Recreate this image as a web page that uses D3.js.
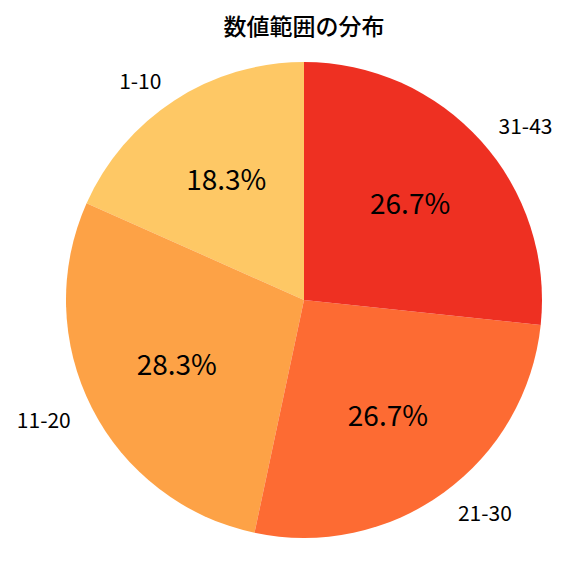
<!DOCTYPE html>
<html>
<head>
<meta charset="utf-8">
<script src="https://d3js.org/d3.v7.min.js"></script>
<style>
  body { margin: 0; background: #fff; }
  text { font-family: "Noto Sans CJK JP", "Noto Sans", sans-serif; }
</style>
</head>
<body>
<div id="chart"></div>
<script>
// data (counts give 18.3 / 28.3 / 26.7 / 26.7 %)
const ranges = ['1-10', '11-20', '21-30', '31-43'];
const counts = [11, 17, 16, 16];
const title = '数値範囲の分布';

const sliceColors = ['#fec865', '#fda246', '#fd6b33', '#ee3022'];

const width = 576, height = 576;
const cx = 304, cy = 300, radius = 238;

const svg = d3.select('#chart').append('svg')
    .attr('width', width)
    .attr('height', height);

svg.append('text')
    .attr('x', cx)
    .attr('y', 25)
    .attr('text-anchor', 'middle')
    .attr('dominant-baseline', 'central')
    .attr('font-size', 23)
    .attr('font-weight', 500)
    .text(title);

const color = d3.scaleOrdinal().domain(ranges).range(sliceColors);

// matplotlib style: start at top, go counter-clockwise
const pie = d3.pie()
    .value(d => d.count)
    .sort(null)
    .startAngle(0)
    .endAngle(-2 * Math.PI);

const rows = ranges.map((r, i) => ({ range: r, count: counts[i] }));
const arcs = pie(rows);
const total = d3.sum(counts);

const arc = d3.arc().innerRadius(0).outerRadius(radius);

const g = svg.append('g').attr('transform', `translate(${cx},${cy})`);

g.selectAll('path')
    .data(arcs)
    .join('path')
    .attr('d', arc)
    .attr('fill', d => color(d.data.range));

const mid = d => (d.startAngle + d.endAngle) / 2;

g.selectAll('.pct')
    .data(arcs)
    .join('text')
    .attr('class', 'pct')
    .attr('x', d => Math.sin(mid(d)) * radius * 0.6)
    .attr('y', d => -Math.cos(mid(d)) * radius * 0.6 - 2)
    .attr('text-anchor', 'middle')
    .attr('dominant-baseline', 'central')
    .attr('font-size', 28)
    .text(d => d3.format('.1f')(d.data.count / total * 100) + '%');

g.selectAll('.lbl')
    .data(arcs)
    .join('text')
    .attr('class', 'lbl')
    .attr('x', d => Math.sin(mid(d)) * radius * 1.1)
    .attr('y', d => -Math.cos(mid(d)) * radius * 1.1)
    .attr('text-anchor', d => Math.sin(mid(d)) < 0 ? 'end' : 'start')
    .attr('dominant-baseline', 'central')
    .attr('font-size', 21)
    .text(d => d.data.range);
</script>
</body>
</html>
